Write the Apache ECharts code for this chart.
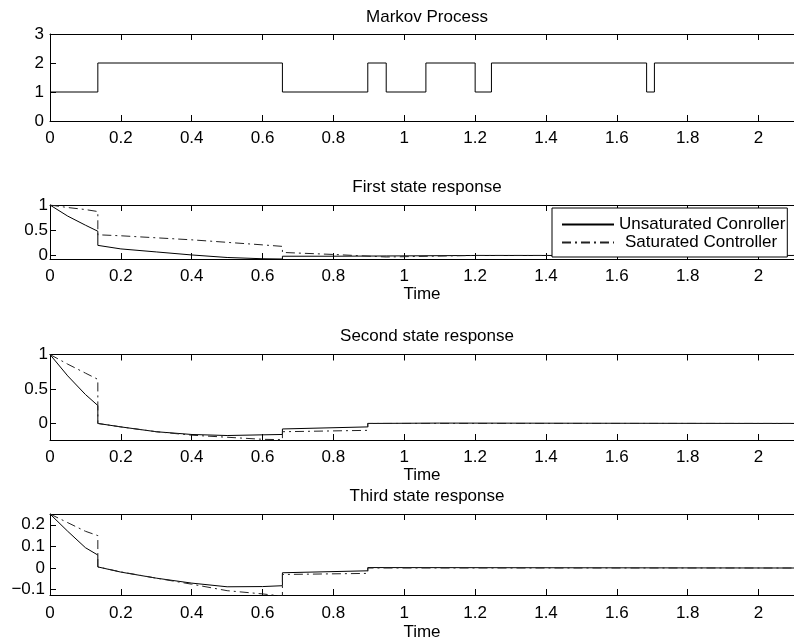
<!DOCTYPE html>
<html>
<head>
<meta charset="utf-8">
<script src="https://cdn.jsdelivr.net/npm/echarts@6.0.0/dist/echarts.min.js"></script>
<style>
  html, body { margin: 0; padding: 0; background: #fff; }
  #main { width: 794px; height: 642px; }
</style>
</head>
<body>
<div id="main"></div>
<script>
// tick labels
const xTicks = [0, 0.2, 0.4, 0.6, 0.8, 1, 1.2, 1.4, 1.6, 1.8, 2];
const markovTicks = [0, 1, 2, 3];
const firstTicks = [0, 0.5, 1];
const secondTicks = [0, 0.5, 1];
const thirdTicks = [-0.1, 0, 0.1, 0.2];

// Markov jump process (state holds until the next time)
const markovTime = [0, 0.135, 0.656, 0.897, 0.949, 1.061, 1.2, 1.246, 1.684, 1.706, 2.1];
const markovState = [1, 2, 1, 2, 1, 2, 1, 2, 1, 2, 2];

// first state
const firstUnsatTime = [0, 0.05, 0.1, 0.135, 0.135, 0.2, 0.3, 0.4, 0.5, 0.6, 0.656, 0.656, 0.8, 0.949, 0.949, 1.2, 2.1];
const firstUnsat = [1, 0.78, 0.6, 0.48, 0.2, 0.13, 0.07, 0.01, -0.04, -0.065, -0.07, -0.015, -0.015, -0.01, 0, 0, 0];
const firstSatTime = [0, 0.05, 0.1, 0.135, 0.135, 0.2, 0.4, 0.6, 0.656, 0.656, 0.8, 0.949, 0.949, 1.2, 2.1];
const firstSat = [1, 0.95, 0.91, 0.87, 0.41, 0.39, 0.31, 0.21, 0.18, 0.06, 0.02, -0.03, 0, 0, 0];

// second state
const secondUnsatTime = [0, 0.05, 0.1, 0.135, 0.135, 0.2, 0.3, 0.4, 0.5, 0.6, 0.656, 0.656, 0.897, 0.897, 1.1, 2.1];
const secondUnsat = [1, 0.69, 0.42, 0.26, 0, -0.05, -0.12, -0.16, -0.175, -0.165, -0.16, -0.08, -0.05, 0, 0.005, 0];
const secondSatTime = [0, 0.05, 0.1, 0.135, 0.135, 0.2, 0.3, 0.4, 0.5, 0.6, 0.656, 0.656, 0.897, 0.897, 2.1];
const secondSat = [1, 0.86, 0.73, 0.64, 0, -0.05, -0.12, -0.17, -0.2, -0.23, -0.235, -0.12, -0.1, 0, 0];

// third state
const thirdUnsatTime = [0, 0.05, 0.1, 0.135, 0.135, 0.2, 0.3, 0.4, 0.5, 0.6, 0.656, 0.656, 0.897, 0.897, 2.1];
const thirdUnsat = [0.25, 0.17, 0.094, 0.06, 0.005, -0.019, -0.047, -0.07, -0.087, -0.086, -0.082, -0.022, -0.013, 0.002, 0];
const thirdSatTime = [0, 0.05, 0.1, 0.135, 0.135, 0.2, 0.3, 0.4, 0.5, 0.6, 0.656, 0.656, 0.897, 0.897, 2.1];
const thirdSat = [0.25, 0.21, 0.17, 0.15, 0.005, -0.018, -0.047, -0.075, -0.105, -0.12, -0.13, -0.03, -0.025, 0, 0];

const FONT = "Liberation Sans";
const FS = 17;
const dashDot = [9, 4, 2, 4];

function pairs(t, v) {
  return t.map((x, i) => [x, v[i]]);
}
function fmt(v) {
  return String(+v.toFixed(2)).replace("-", "\u2212");
}

// panel layout: top, height, y range, y ticks, label margin
const panels = [
  { top: 34, height: 87, min: 0, max: 3, ticks: markovTicks, lm: 6, title: "Markov Process", titleTop: 4, name: "" },
  { top: 205, height: 54, min: -0.07, max: 1, ticks: firstTicks, lm: 2, title: "First state response", titleTop: 174, name: "Time" },
  { top: 354.5, height: 85.5, min: -0.24, max: 1, ticks: secondTicks, lm: 2, title: "Second state response", titleTop: 323, name: "Time" },
  { top: 514, height: 86, min: -0.125, max: 0.25, ticks: thirdTicks, lm: 5, title: "Third state response", titleTop: 483, name: "Time" },
];

const axisLine = { show: true, onZero: false, lineStyle: { color: "#000", width: 1 } };
const tickStyle = { show: true, inside: true, length: 6, lineStyle: { color: "#000" } };

let grid = [];
let xAxis = [];
let yAxis = [];
let title = [];

panels.forEach((p, i) => {
  grid.push({ left: 50, top: p.top, width: 745, height: p.height });
  title.push({
    text: p.title,
    left: 422,
    textAlign: "center",
    top: p.titleTop,
    textStyle: { fontFamily: FONT, fontSize: FS, fontWeight: "normal", color: "#000" },
  });
  // bottom axis with labels
  xAxis.push({
    type: "value",
    gridIndex: i,
    min: 0,
    max: 2.1,
    name: p.name,
    nameLocation: "middle",
    nameGap: i === 3 ? 29 : 27,
    nameTextStyle: { fontFamily: FONT, fontSize: FS, color: "#000" },
    axisLine: axisLine,
    axisTick: Object.assign({ customValues: xTicks }, tickStyle),
    axisLabel: { customValues: xTicks, formatter: fmt, margin: i === 3 ? 10 : 9, fontFamily: FONT, fontSize: FS, color: "#000" },
    splitLine: { show: false },
  });
  // top mirror axis
  xAxis.push({
    type: "value",
    gridIndex: i,
    position: "top",
    min: 0,
    max: 2.1,
    axisLine: axisLine,
    axisTick: Object.assign({ customValues: xTicks }, tickStyle),
    axisLabel: { show: false },
    splitLine: { show: false },
  });
  yAxis.push({
    type: "value",
    gridIndex: i,
    min: p.min,
    max: p.max,
    axisLine: axisLine,
    axisTick: Object.assign({ customValues: p.ticks }, tickStyle),
    axisLabel: { customValues: p.ticks, formatter: fmt, margin: p.lm, fontFamily: FONT, fontSize: FS, color: "#000" },
    splitLine: { show: false },
  });
});

function lineSeries(name, idx, data, type) {
  let c = type === "solid" ? "#000" : "#222";
  return {
    name: name,
    type: "line",
    xAxisIndex: idx * 2,
    yAxisIndex: idx,
    symbol: "none",
    animation: false,
    data: data,
    itemStyle: { color: c },
    lineStyle: { color: c, width: 1, type: type },
  };
}

let series = [
  Object.assign(lineSeries("Markov", 0, pairs(markovTime, markovState), "solid"), { step: "end" }),
  lineSeries("Unsaturated Conroller", 1, pairs(firstUnsatTime, firstUnsat), "solid"),
  lineSeries("Saturated Controller", 1, pairs(firstSatTime, firstSat), dashDot),
  lineSeries("Unsaturated Conroller", 2, pairs(secondUnsatTime, secondUnsat), "solid"),
  lineSeries("Saturated Controller", 2, pairs(secondSatTime, secondSat), dashDot),
  lineSeries("Unsaturated Conroller", 3, pairs(thirdUnsatTime, thirdUnsat), "solid"),
  lineSeries("Saturated Controller", 3, pairs(thirdSatTime, thirdSat), dashDot),
];

let option = {
  animation: false,
  backgroundColor: "#fff",
  title: title,
  grid: grid,
  xAxis: xAxis,
  yAxis: yAxis,
  legend: {
    data: ["Unsaturated Conroller", "Saturated Controller"],
    orient: "vertical",
    left: 552,
    top: 208,
    itemWidth: 52,
    itemHeight: 14,
    itemGap: 1,
    padding: [8, 2, 6, 9],
    borderColor: "#000",
    borderWidth: 1,
    borderRadius: 0,
    backgroundColor: "#fff",
    selectedMode: false,
    itemStyle: { opacity: 0 },
    formatter: function (name) {
      return name === "Saturated Controller" ? "{s|" + name + "}" : name;
    },
    textStyle: {
      fontFamily: FONT,
      fontSize: FS,
      color: "#000",
      rich: { s: { fontFamily: FONT, fontSize: FS, color: "#000", padding: [0, 0, 0, 6] } },
    },
  },
  series: series,
};

var myChart = echarts.init(document.getElementById("main"));
myChart.setOption(option);
</script>
</body>
</html>
